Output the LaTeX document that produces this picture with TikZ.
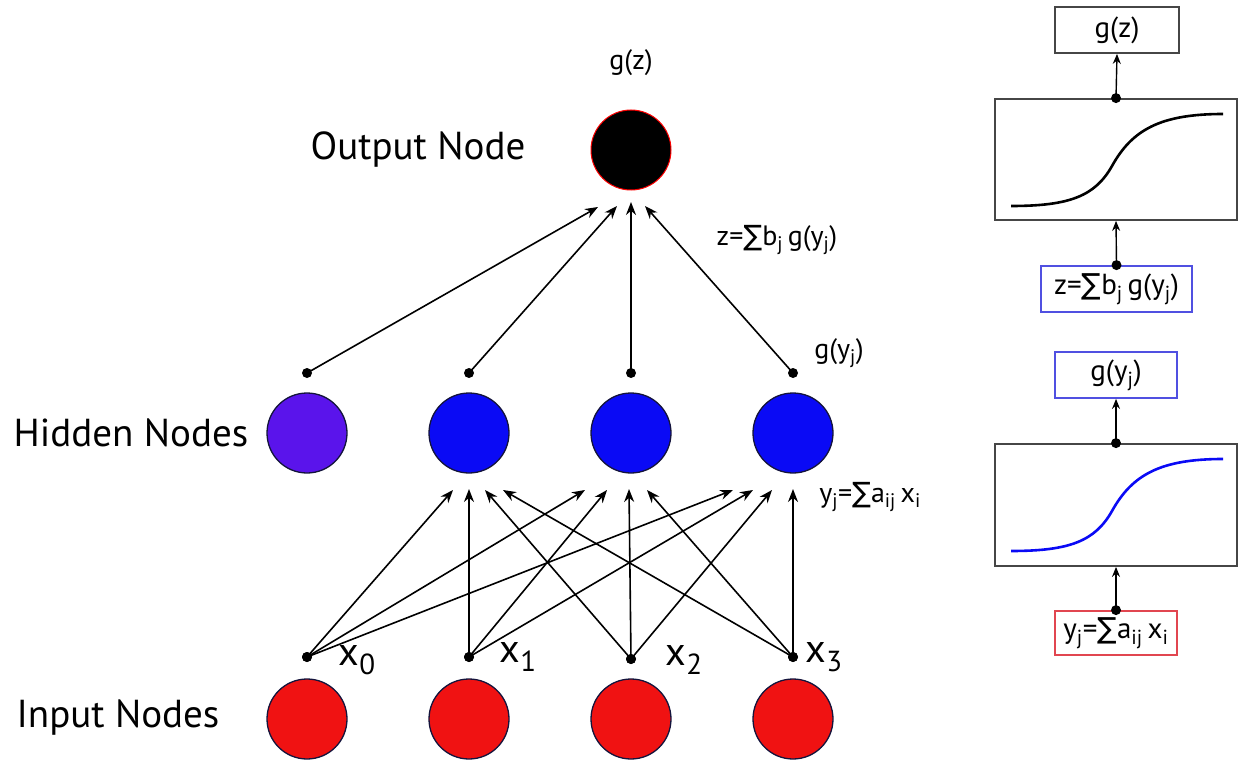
\documentclass[tikz,border=0pt]{standalone}
\usepackage{fontspec}
\setmainfont{PT Sans}
\newfontfamily\symf{DejaVu Sans}
\usetikzlibrary{arrows.meta}
\definecolor{inred}{RGB}{240,18,18}
\definecolor{hidblue}{RGB}{10,10,245}
\definecolor{hidpurple}{RGB}{90,20,235}
\definecolor{edgedark}{RGB}{20,20,60}
\definecolor{boxgray}{RGB}{70,70,70}
\definecolor{boxblue}{RGB}{80,80,225}
\definecolor{boxred}{RGB}{225,70,80}
\newcommand\zlab{z={\symf ∑}b\textsubscript{j}\,g(y\textsubscript{j})}
\newcommand\ylab{y\textsubscript{j}={\symf ∑}a\textsubscript{ij}\,x\textsubscript{i}}
\newcommand\gylab{g(y\textsubscript{j})}
\newcommand\xsub[1]{x\raisebox{-9pt}{\fontsize{29}{30}\selectfont #1}}
\tikzset{
  neuron/.style={circle,draw=edgedark,line width=1.3pt,minimum size=80pt,inner sep=0pt},
  dotn/.style={circle,fill=black,minimum size=10pt,inner sep=0pt},
  conn/.style={line width=1.6pt,-{Stealth[length=13pt,width=10pt]}},
  biglabel/.style={font=\fontsize{39}{44}\selectfont,inner sep=0pt},
  smalllabel/.style={font=\fontsize{28}{32}\selectfont,inner sep=0pt},
  xlabel/.style={font=\fontsize{40}{44}\selectfont,inner sep=0pt},
  fbox/.style={draw=boxgray,line width=1.8pt,inner sep=0pt,font=\fontsize{29}{32}\selectfont},
  sig/.style={line width=2.6pt},
  parr/.style={line width=1.4pt,-{Stealth[length=10pt,width=8pt]}}
}
\begin{document}
\begin{tikzpicture}[x=1pt,y=-1pt]
\useasboundingbox (0,0) rectangle (1239,762);
% labels on the left
\node[biglabel] (lout) at (418,150) {Output Node};
\node[biglabel] (lhid) at (131,433) {Hidden Nodes};
\node[biglabel] (linp) at (118,718) {Input Nodes};
% output node
\node[neuron,fill=black,draw=red,line width=1pt] (out) at (631,150) {};
\node[smalllabel] (gz) at (631,63) {g(z)};
% hidden nodes
\node[neuron,fill=hidpurple] (h0) at (307,433) {};
\node[neuron,fill=hidblue] (h1) at (469,433) {};
\node[neuron,fill=hidblue] (h2) at (631,433) {};
\node[neuron,fill=hidblue] (h3) at (793,433) {};
% input nodes
\node[neuron,fill=inred] (i0) at (307,719) {};
\node[neuron,fill=inred] (i1) at (469,719) {};
\node[neuron,fill=inred] (i2) at (631,719) {};
\node[neuron,fill=inred] (i3) at (793,719) {};
% dots above hidden
\node[dotn] (d0) at (307,373) {};
\node[dotn] (d1) at (469,373) {};
\node[dotn] (d2) at (631,373) {};
\node[dotn] (d3) at (793,373) {};
% output arrow tips
\coordinate (t0) at (598,207);
\coordinate (t1) at (617,206);
\coordinate (t2) at (631,202);
\coordinate (t3) at (645,206);
\foreach \k in {0,1,2,3} \draw[conn] (d\k.center) -- (t\k);
% input dots
\node[dotn] (x0) at (307,657) {};
\node[dotn] (x1) at (469,657) {};
\node[dotn] (x2) at (631,659) {};
\node[dotn] (x3) at (793,657) {};
% tips below hidden nodes
\coordinate (a10) at (453,490); \coordinate (a11) at (469,489); \coordinate (a12) at (485,490); \coordinate (a13) at (503,490);
\coordinate (a20) at (585,490); \coordinate (a21) at (607,490); \coordinate (a22) at (629,489); \coordinate (a23) at (647,490);
\coordinate (a30) at (733,490); \coordinate (a31) at (753,490); \coordinate (a32) at (772,490); \coordinate (a33) at (793,489);
\foreach \j in {1,2,3} {
  \foreach \i in {0,1,2,3} {
    \draw[conn] (x\i.center) -- (a\j\i);
  }
}
\foreach \k in {0,1,2,3} \node[dotn] at (x\k) {};
% x labels
\node[xlabel] (lx0) at (357,660) {\xsub{0}};
\node[xlabel] (lx1) at (518,657) {\xsub{1}};
\node[xlabel] (lx2) at (684,660) {\xsub{2}};
\node[xlabel] (lx3) at (824,657) {\xsub{3}};
% small labels
\node[smalllabel] (lz) at (777,240) {\zlab};
\node[smalllabel] (lgy) at (839,353) {\gylab};
\node[smalllabel] (ly) at (870,497) {\ylab};
% right panel
\node[fbox,minimum width=124pt,minimum height=46pt] (bgz) at (1117,30) {g(z)};
\node[fbox,minimum width=242pt,minimum height=121pt] (s1) at (1116,159.5) {};
\node[fbox,draw=boxblue,minimum width=151pt,minimum height=46pt] (bz) at (1116.5,289) {\zlab};
\node[fbox,draw=boxblue,minimum width=122pt,minimum height=46pt] (bgy) at (1116,375) {\gylab};
\node[fbox,minimum width=242pt,minimum height=122pt] (s2) at (1116,505) {};
\node[fbox,draw=boxred,minimum width=122pt,minimum height=44pt] (by) at (1116,633) {\ylab};
\draw[sig,black] (1011,206) .. controls (1070,206) and (1095,196) .. (1112,166) .. controls (1132,130) and (1160,114) .. (1223,114);
\draw[sig,hidblue] (1011,551) .. controls (1070,551) and (1095,541) .. (1112,511) .. controls (1132,475) and (1160,459) .. (1223,459);
\node[dotn] (ds1) at (s1.north) {};
\node[dotn] (dbz) at (bz.north) {};
\node[dotn] (ds2) at (s2.north) {};
\node[dotn] (dby) at (by.north) {};
\draw[parr] (ds1.center) -- (bgz.south);
\draw[parr] (dbz.center) -- (s1.south);
\draw[parr] (ds2.center) -- (bgy.south);
\draw[parr] (dby.center) -- (s2.south);
\end{tikzpicture}
\end{document}
